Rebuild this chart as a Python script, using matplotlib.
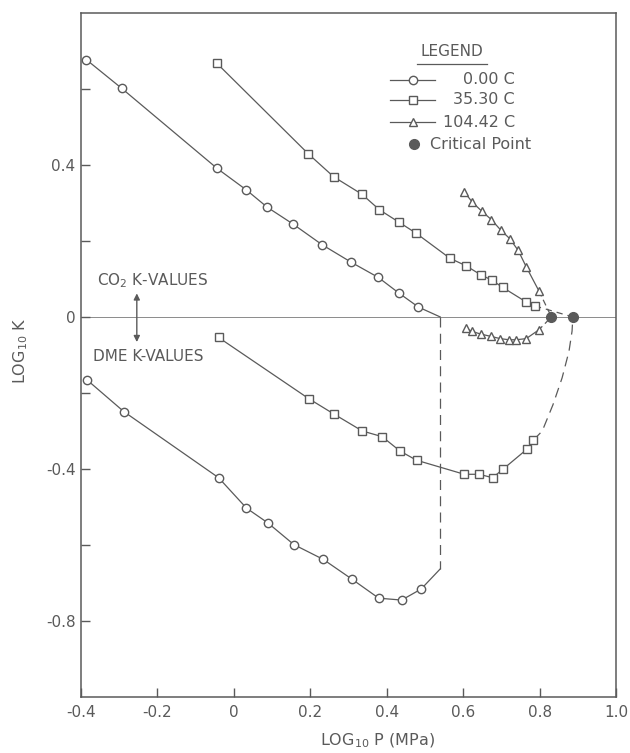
import matplotlib
matplotlib.use('Agg')
import matplotlib.pyplot as plt

plt.rcParams['font.family'] = ['DejaVu Sans']
plt.rcParams['axes.unicode_minus'] = False

GRAY = '#5a5a5a'

# ---- data (log10 P [MPa], log10 K) ----
# 0.00 C
co2_0_x = [-0.386, -0.294, -0.044, 0.033, 0.087, 0.154, 0.231, 0.307, 0.378, 0.433, 0.483]
co2_0_y = [0.677, 0.602, 0.391, 0.334, 0.289, 0.245, 0.190, 0.144, 0.104, 0.062, 0.026]
dme_0_x = [-0.385, -0.288, -0.040, 0.033, 0.089, 0.157, 0.234, 0.309, 0.379, 0.439, 0.490]
dme_0_y = [-0.165, -0.249, -0.423, -0.503, -0.542, -0.599, -0.638, -0.690, -0.740, -0.745, -0.716]
# end of the 0.00 C curves (dashed vertical)
end_0_x = 0.540
end_0_y = [0.0, -0.663]

# 35.30 C
co2_35_x = [-0.045, 0.195, 0.261, 0.335, 0.381, 0.431, 0.476, 0.566, 0.607, 0.646, 0.675, 0.703, 0.764, 0.788]
co2_35_y = [0.668, 0.429, 0.369, 0.323, 0.282, 0.250, 0.221, 0.154, 0.135, 0.111, 0.097, 0.078, 0.040, 0.029]
dme_35_x = [-0.040, 0.196, 0.261, 0.336, 0.388, 0.435, 0.478, 0.603, 0.642, 0.677, 0.705, 0.768, 0.784]
dme_35_y = [-0.054, -0.215, -0.255, -0.300, -0.315, -0.353, -0.377, -0.414, -0.414, -0.423, -0.400, -0.347, -0.324]
# dashed approach to the critical point
dme_35_dash_x = [0.784, 0.807, 0.835, 0.859, 0.877, 0.885, 0.887]
dme_35_dash_y = [-0.324, -0.300, -0.231, -0.160, -0.090, -0.037, 0.0]

# 104.42 C
co2_104_x = [0.603, 0.624, 0.648, 0.674, 0.698, 0.722, 0.744, 0.765, 0.798]
co2_104_y = [0.329, 0.302, 0.279, 0.256, 0.229, 0.206, 0.175, 0.132, 0.069]
dme_104_x = [0.607, 0.623, 0.646, 0.672, 0.697, 0.720, 0.739, 0.765, 0.798]
dme_104_y = [-0.030, -0.038, -0.045, -0.051, -0.057, -0.060, -0.060, -0.057, -0.034]

# critical points (104.42 C, 35.30 C)
crit_x = [0.831, 0.887]
crit_y = [0.0, 0.0]

fig = plt.figure(figsize=(6.3, 7.53), dpi=100)
ax = fig.add_axes([0.1286, 0.0744, 0.8492, 0.9084])

line_kw = dict(color=GRAY, lw=0.9, markersize=6, markerfacecolor='white',
               markeredgecolor=GRAY, markeredgewidth=1.0)

ax.axhline(0, color=GRAY, lw=0.7, alpha=0.7)

# 0.00 C
ax.plot(co2_0_x + [end_0_x], co2_0_y + [end_0_y[0]], color=GRAY, lw=0.9)
ax.plot(co2_0_x, co2_0_y, 'o', **line_kw)
ax.plot(dme_0_x + [end_0_x], dme_0_y + [end_0_y[1]], color=GRAY, lw=0.9)
ax.plot(dme_0_x, dme_0_y, 'o', **line_kw)
ax.plot([end_0_x, end_0_x], end_0_y, color=GRAY, lw=0.9, dashes=(8, 5))

# 35.30 C
ax.plot(co2_35_x, co2_35_y, color=GRAY, lw=0.9)
ax.plot([co2_35_x[-1], crit_x[1]], [co2_35_y[-1], crit_y[1]], color=GRAY, lw=0.9, dashes=(5, 4))
ax.plot(co2_35_x, co2_35_y, 's', **dict(line_kw, markersize=5.5))
ax.plot(dme_35_x, dme_35_y, color=GRAY, lw=0.9)
ax.plot(dme_35_dash_x, dme_35_dash_y, color=GRAY, lw=0.9, dashes=(8, 5))
ax.plot(dme_35_x, dme_35_y, 's', **dict(line_kw, markersize=5.5))

# 104.42 C
ax.plot(co2_104_x, co2_104_y, color=GRAY, lw=0.9)
ax.plot([co2_104_x[-1], crit_x[0]], [co2_104_y[-1], crit_y[0]], color=GRAY, lw=0.9, dashes=(5, 3))
ax.plot(co2_104_x, co2_104_y, '^', **line_kw)
ax.plot(dme_104_x, dme_104_y, color=GRAY, lw=0.9)
ax.plot([dme_104_x[-1], crit_x[0]], [dme_104_y[-1], crit_y[0]], color=GRAY, lw=0.9, dashes=(4, 3))
ax.plot(dme_104_x, dme_104_y, '^', **line_kw)

# critical points
ax.plot(crit_x, crit_y, 'o', color=GRAY, markersize=7, zorder=5)

# CO2 / DME annotation
ax.text(-0.358, 0.095, 'CO$_2$ K-VALUES', fontsize=11, color=GRAY, va='center', ha='left')
ax.text(-0.369, -0.103, 'DME K-VALUES', fontsize=11, color=GRAY, va='center', ha='left')
ax.annotate('', xy=(-0.254, 0.062), xytext=(-0.254, -0.066),
            arrowprops=dict(arrowstyle='<|-|>', color=GRAY, lw=1.0,
                            mutation_scale=9, shrinkA=0, shrinkB=0))

# legend (drawn by hand to keep the layout)
ax.text(0.693, 0.944, 'LEGEND', transform=ax.transAxes, fontsize=11, color=GRAY,
        ha='center', va='center')
ax.plot([0.628, 0.758], [0.926, 0.926], transform=ax.transAxes, color=GRAY, lw=0.9)
leg_rows = [(0.902, 'o', '0.00 C'), (0.873, 's', '35.30 C'), (0.840, '^', '104.42 C')]
for yy, mk, lab in leg_rows:
    ax.plot([0.578, 0.662], [yy, yy], transform=ax.transAxes, color=GRAY, lw=0.9)
    ax.plot([0.620], [yy], mk, transform=ax.transAxes, **line_kw)
    ax.text(0.811, yy, lab, transform=ax.transAxes, fontsize=11.5, color=GRAY,
            ha='right', va='center')
ax.plot([0.622], [0.808], 'o', transform=ax.transAxes, color=GRAY, markersize=7)
ax.text(0.652, 0.808, 'Critical Point', transform=ax.transAxes, fontsize=11.5, color=GRAY,
        ha='left', va='center')

# axes
ax.set_xlim(-0.4, 1.0)
ax.set_ylim(-1.0, 0.8)
ax.set_xticks([-0.4, -0.2, 0, 0.2, 0.4, 0.6, 0.8, 1.0])
ax.set_xticklabels(['-0.4', '-0.2', '0', '0.2', '0.4', '0.6', '0.8', '1.0'])
ax.set_yticks([-0.8, -0.4, 0, 0.4])
ax.set_yticklabels(['-0.8', '-0.4', '0', '0.4'])
ax.set_yticks([-0.6, -0.2, 0.2, 0.6], minor=True)
ax.tick_params(axis='both', which='both', direction='in', length=6.5, width=1.0,
               color=GRAY, labelcolor=GRAY, labelsize=11, pad=6)
ax.tick_params(axis='y', pad=4)
for sp in ax.spines.values():
    sp.set_color(GRAY)
    sp.set_linewidth(1.1)

ax.set_xlabel('LOG$_{10}$ P (MPa)', fontsize=11.5, color=GRAY)
ax.set_ylabel('LOG$_{10}$ K', fontsize=11.5, color=GRAY)
ax.xaxis.set_label_coords(0.555, -0.05)
ax.yaxis.set_label_coords(-0.095, 0.507)

plt.savefig('out.png', dpi=100)
